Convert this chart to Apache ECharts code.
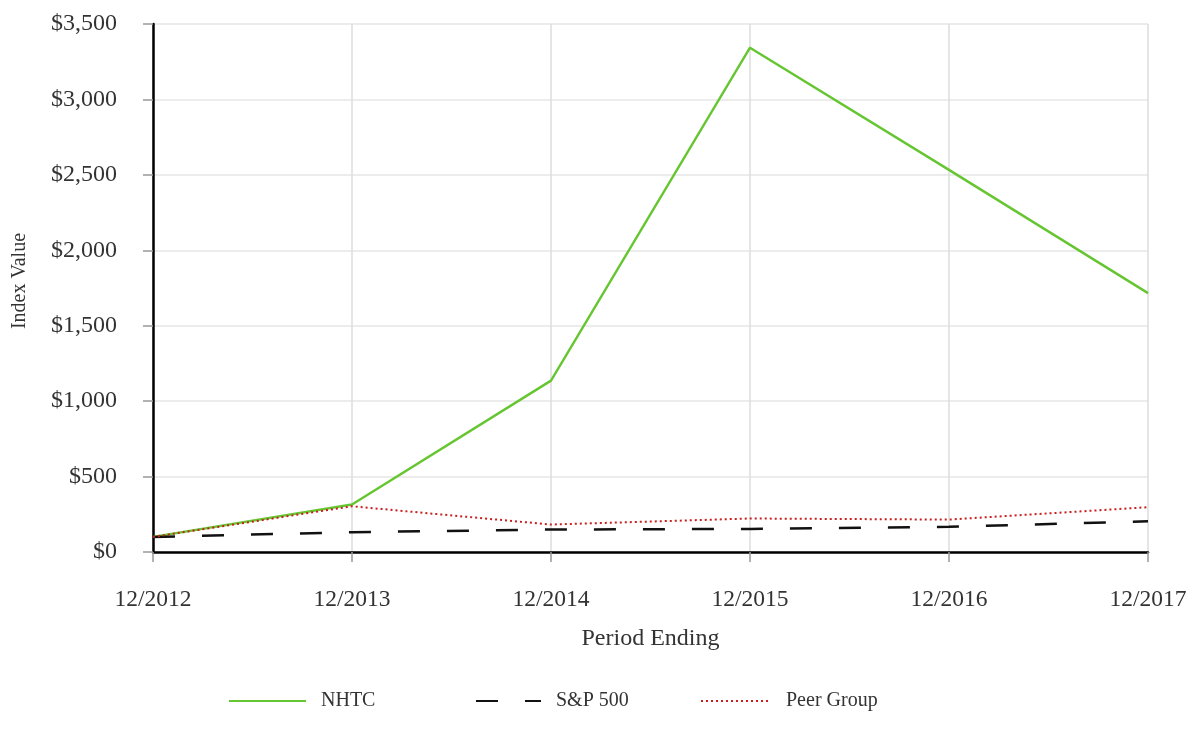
<!DOCTYPE html>
<html>
<head>
<meta charset="utf-8">
<script src="https://cdn.jsdelivr.net/npm/echarts@6/dist/echarts.min.js"></script>
<style>html,body{margin:0;padding:0;background:#fff;}#c{width:1190px;height:736px;}</style>
</head>
<body>
<div id="c"></div>
<script>
const categories = ['12/2012', '12/2013', '12/2014', '12/2015', '12/2016', '12/2017'];
const nhtc = [100, 315, 1136, 3343, 2533, 1716];
const sp500 = [100, 131, 149, 153, 167, 204];
const peer = [100, 303, 182, 222, 215, 297];
const yTicks = [0, 500, 1000, 1500, 2000, 2500, 3000, 3500];

const FONT = '"Liberation Serif", "Times New Roman", serif';
const TXT = '#333333';
const chart = echarts.init(document.getElementById('c'));

function legendAt(name, left, width) {
  return {
    data: [name], left: left, top: 686, itemWidth: width, itemHeight: 14,
    itemStyle: { opacity: 0 },
    textStyle: { fontFamily: FONT, fontSize: 20, color: TXT, padding: [0, 0, 0, 10] },
    selectedMode: false
  };
}

chart.setOption({
  animation: false,
  backgroundColor: '#ffffff',
  grid: { left: 153, right: 42, top: 24, bottom: 184, containLabel: false },
  legend: [legendAt('NHTC', 223, 77), legendAt('S&P 500', 470, 65), legendAt('Peer Group', 695, 70)],
  graphic: [{
    type: 'text', x: 20, y: 281, rotation: Math.PI / 2,
    style: { text: 'Index Value', fontFamily: FONT, fontSize: 20, fill: TXT, align: 'center', verticalAlign: 'middle' }
  }],
  xAxis: {
    type: 'category', data: categories, boundaryGap: false,
    name: 'Period Ending', nameLocation: 'middle', nameGap: 75,
    nameTextStyle: { fontFamily: FONT, fontSize: 24, color: TXT },
    axisLine: { lineStyle: { color: '#000', width: 2.5 } },
    axisTick: { show: true, length: 10, lineStyle: { color: '#999', width: 1.5 } },
    axisLabel: { fontFamily: FONT, fontSize: 23.5, color: TXT, margin: 36 },
    splitLine: { show: true, lineStyle: { color: '#dddddd', width: 1.5 } }
  },
  yAxis: {
    type: 'value', min: 0, max: 3500, interval: 500,
    axisLine: { show: true, lineStyle: { color: '#000', width: 2.5 } },
    axisTick: { show: true, length: 10, lineStyle: { color: '#999', width: 1.5 } },
    axisLabel: {
      fontFamily: FONT, fontSize: 24, color: TXT, margin: 36,
      formatter: v => '$' + v.toLocaleString('en-US')
    },
    splitLine: { show: true, lineStyle: { color: '#e6e6e6', width: 1.5 } }
  },
  series: [
    { name: 'NHTC', type: 'line', data: nhtc, symbol: 'none',
      lineStyle: { color: '#66c632', width: 2.4 }, itemStyle: { color: '#66c632' } },
    { name: 'S&P 500', type: 'line', data: sp500, symbol: 'none',
      lineStyle: { color: '#111', width: 2.5, type: [22, 27] }, itemStyle: { color: '#111' } },
    { name: 'Peer Group', type: 'line', data: peer, symbol: 'none',
      lineStyle: { color: '#c81e1e', width: 2, type: [2, 3] }, itemStyle: { color: '#c81e1e' } }
  ]
});
</script>
</body>
</html>
